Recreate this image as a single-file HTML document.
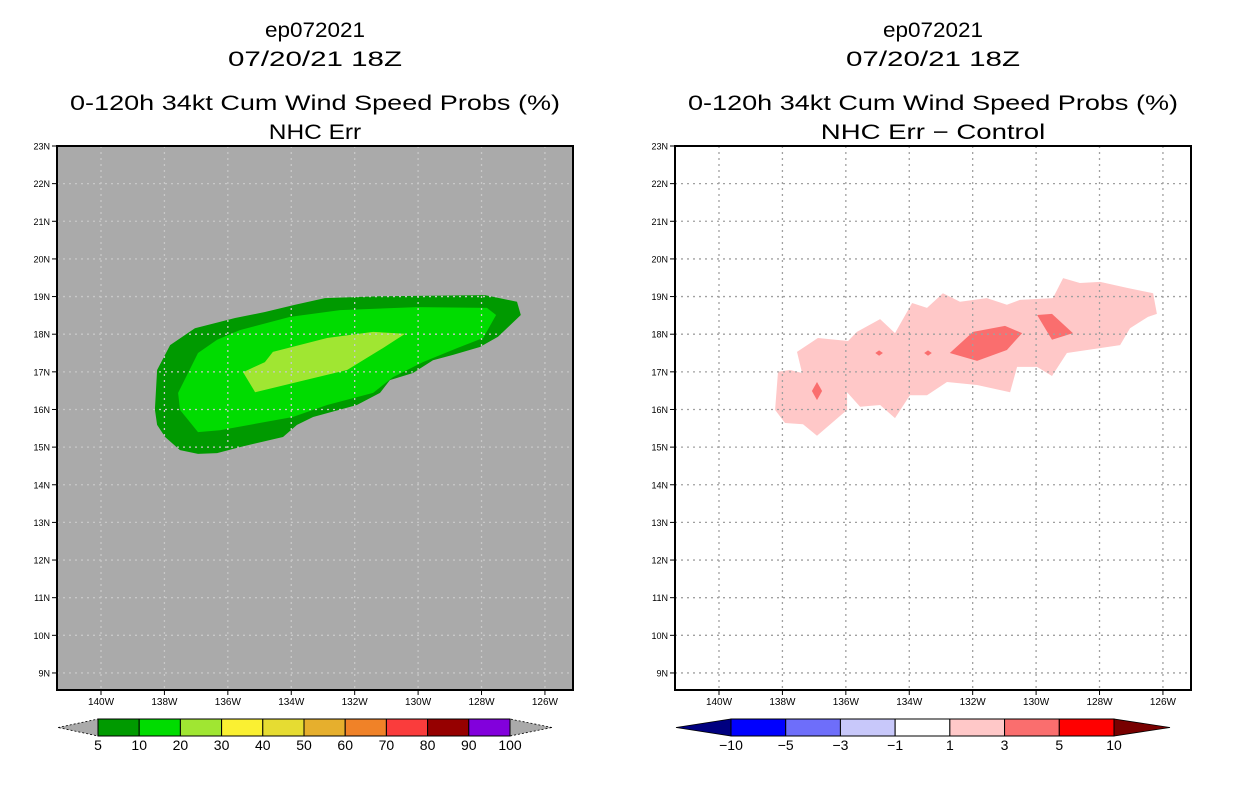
<!DOCTYPE html>
<html><head><meta charset="utf-8"><style>
html,body{margin:0;padding:0;background:#fff;}
svg{display:block;font-family:"Liberation Sans",sans-serif;}
</style></head><body>
<svg id="s" width="1236" height="800" viewBox="0 0 1236 800"></svg>
<script>
const lonTicks=[140,138,136,134,132,130,128,126];
const latTicks=[23,22,21,20,19,18,17,16,15,14,13,12,11,10,9];
const probLevels=['5','10','20','30','40','50','60','70','80','90','100'];
const probColors=['#009a00','#00dc00','#a0e632','#faf032','#e6dc32','#e6af2d','#f08228','#fa3c3c','#960000','#8200dc'];
const diffLevels=['-10','-5','-3','-1','1','3','5','10'];
const diffColors=['#0000ff','#6e6efa','#c8c8fa','#ffffff','#ffc8c8','#fa6e6e','#ff0000'];
const prob5=[[138.3,16.0],[138.23,17.05],[137.82,17.71],[137.04,18.16],[135.77,18.43],[134.83,18.59],[133.88,18.78],[132.94,18.96],[131.2,19.01],[127.89,19.04],[126.88,18.86],[126.76,18.51],[127.48,17.93],[128.05,17.66],[128.9,17.45],[129.53,17.31],[130.16,16.97],[130.89,16.78],[131.2,16.44],[131.93,16.12],[133.31,15.8],[133.82,15.59],[134.26,15.27],[135.62,15.0],[136.34,14.84],[136.94,14.82],[137.51,14.92],[137.98,15.27],[138.23,15.59]];
const prob10=[[136.34,17.85],[136.94,17.5],[137.57,16.44],[137.51,15.99],[136.94,15.40],[136.25,15.45],[133.95,15.8],[132.87,16.12],[131.42,16.44],[130.79,16.86],[129.85,17.26],[128.77,17.63],[127.95,17.9],[127.54,18.51],[127.83,18.70],[130.03,18.72],[132.46,18.64],[134.04,18.46],[135.62,18.11]];
const prob20=[[135.52,16.99],[135.14,16.46],[133.95,16.70],[132.24,17.05],[131.11,17.63],[130.41,18.01],[131.42,18.06],[132.87,17.9],[134.58,17.53],[134.83,17.26]];
const diff1=[[138.23,15.99],[137.92,15.64],[137.35,15.61],[136.91,15.30],[135.96,15.99],[135.96,16.46],[135.55,16.07],[134.92,16.12],[134.45,15.77],[133.98,16.38],[133.44,16.38],[132.81,16.73],[131.86,16.65],[130.82,16.46],[130.6,17.13],[129.97,17.13],[129.5,16.89],[129.03,17.5],[127.35,17.71],[127.04,18.16],[126.47,18.46],[126.19,18.54],[126.31,19.09],[127.13,19.23],[127.98,19.39],[128.62,19.36],[129.15,19.49],[129.47,18.96],[130.51,18.91],[130.92,18.78],[131.55,18.96],[132.4,18.86],[132.94,19.09],[133.44,18.70],[133.91,18.83],[134.45,18.03],[134.92,18.4],[135.65,18.06],[135.93,17.82],[136.88,17.9],[137.54,17.53],[137.38,16.97],[137.76,17.05],[138.14,17.0]];
const diff3a=[[132.72,17.5],[131.99,18.06],[130.98,18.22],[130.44,18.03],[130.92,17.58],[131.86,17.29]];
const diff3b=[[129.97,18.51],[129.5,18.54],[128.84,18.03],[129.5,17.85]];
const diff3c=[[136.91,16.73],[136.75,16.49],[136.91,16.25],[137.07,16.49]];
const diff3d=[[134.95,17.57],[134.83,17.5],[134.95,17.43],[135.07,17.5]];
const diff3e=[[133.41,17.57],[133.29,17.5],[133.41,17.43],[133.53,17.5]];

const S=document.getElementById('s');
const NS='http://www.w3.org/2000/svg';
function mk(t,a,p){const e=document.createElementNS(NS,t);for(const k in a)e.setAttribute(k,a[k]);(p||S).appendChild(e);return e;}
const FX0=57,FX1=573,FY0=146,FY1=690;
function xs(off,lon){return off+101+(140-lon)*31.71;}
function ys(lat){return 146+(23-lat)*37.64;}

function panel(off,name,sub,bg,gridCol){
  const g=mk('g',{});
  
  
  const cx=off+(FX0+FX1)/2;
  const titles=[['ep072021',30,100],['07/20/21 18Z',59,174],['0-120h 34kt Cum Wind Speed Probs (%)',103,490],[sub,132,sub.length*13.2]];
  titles.forEach((t,i)=>{const e=mk('text',{x:cx,y:t[1]+7,'text-anchor':'middle','font-size':'21',textLength:t[2],lengthAdjust:'spacingAndGlyphs',fill:'#000'},g);e.textContent=t[0];
    
    });
  const r=mk('rect',{x:off+FX0,y:FY0,width:FX1-FX0,height:FY1-FY0,fill:bg},g);
  
  
  return g;
}
function poly(g,pts,off,col,nm){
  const p=mk('polygon',{points:pts.map(q=>xs(off,q[0]).toFixed(1)+','+ys(q[1]).toFixed(1)).join(' '),fill:col},g);
  
  
}
function axes(g,off,gridCol){
  lonTicks.forEach(l=>{const x=xs(off,l);
    const ln=mk('line',{x1:x,x2:x,y1:FY0,y2:FY1,stroke:gridCol,'stroke-width':1.3,'stroke-dasharray':'2,4'},g);
    
    
    mk('line',{x1:x,x2:x,y1:FY1,y2:FY1+5,stroke:'#000'},g);
    const t=mk('text',{x:x,y:705,'text-anchor':'middle','font-size':'10',fill:'#000'},g);t.textContent=l+'W';
    
    });
  latTicks.forEach(l=>{const y=ys(l);
    const ln=mk('line',{x1:off+FX0,x2:off+FX1,y1:y,y2:y,stroke:gridCol,'stroke-width':1.3,'stroke-dasharray':'2,4'},g);
    
    
    mk('line',{x1:off+FX0-5,x2:off+FX0,y1:y,y2:y,stroke:'#000'},g);
    const t=mk('text',{x:off+FX0-7,y:y+3.5,'text-anchor':'end','font-size':'9',fill:'#000'},g);t.textContent=l+'N';
    
    });
  const f=mk('rect',{x:off+FX0,y:FY0,width:FX1-FX0,height:FY1-FY0,fill:'none',stroke:'#000','stroke-width':2},g);
  
  
}
function colorbar(g,x0,x1,tipL,tipR,cols,labs,lc,rc){
  const cb=mk('g',{},g);
  
  
  const y0=719,y1=736,w=(x1-x0)/cols.length;
  mk('polygon',{points:`${tipL},${(y0+y1)/2} ${x0},${y0} ${x0},${y1}`,fill:lc,stroke:'#000','stroke-width':0.8,'stroke-dasharray':lc=='#aaaaaa'?'2,2':''},cb);
  mk('polygon',{points:`${tipR},${(y0+y1)/2} ${x1},${y0} ${x1},${y1}`,fill:rc,stroke:'#000','stroke-width':0.8,'stroke-dasharray':rc=='#aaaaaa'?'2,2':''},cb);
  cols.forEach((c,i)=>{const r=mk('rect',{x:x0+i*w,y:y0,width:w,height:y1-y0,fill:c,stroke:'#000','stroke-width':1},cb);
    
    });
  labs.forEach((l,i)=>{const t=mk('text',{x:x0+i*w,y:750,'text-anchor':'middle','font-size':'14',fill:'#000'},cb);t.textContent=l.replace('-','\u2212');
    
    });
}
// left
const gl=panel(0,'left-panel','NHC Err','#aaaaaa');
poly(gl,prob5,0,probColors[0],'contour-5pct');
poly(gl,prob10,0,probColors[1],'contour-10pct');
poly(gl,prob20,0,probColors[2],'contour-20pct');
axes(gl,0,'#c8c8c8');
colorbar(gl,98,510,58,552,probColors,probLevels,'#aaaaaa','#aaaaaa');
// right
const gr=panel(618,'right-panel','NHC Err \u2212 Control','#ffffff');
poly(gr,diff1,618,diffColors[4],'diff-contour-1');
[diff3a,diff3b,diff3c,diff3d,diff3e].forEach(d=>poly(gr,d,618,diffColors[5],'diff-contour-3'));
axes(gr,618,'#a0a0a0');
colorbar(gr,731,1114,676,1170,diffColors,diffLevels,'#000080','#780000');
</script>
</body></html>
